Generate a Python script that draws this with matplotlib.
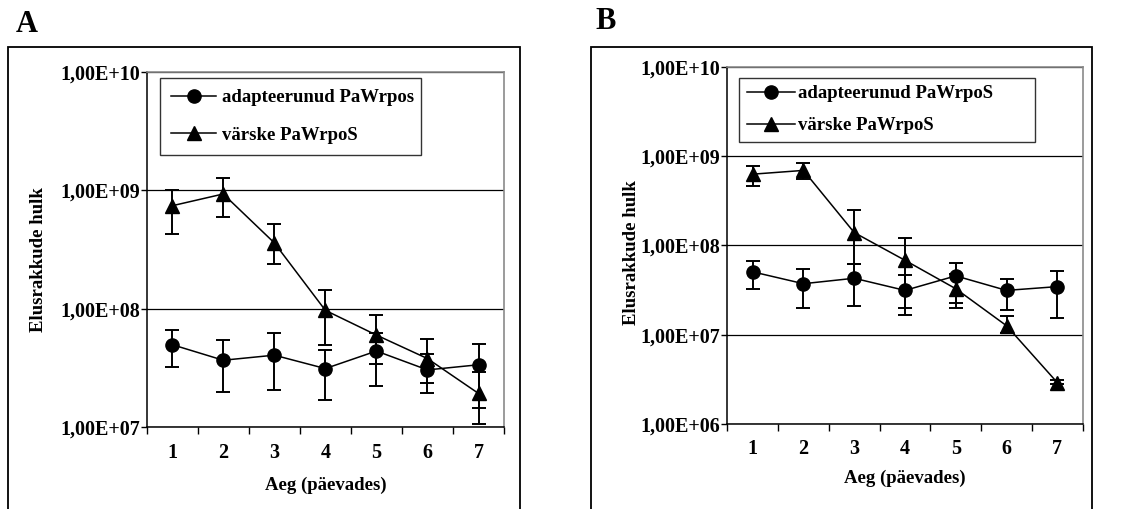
import numpy as np
import matplotlib
matplotlib.use("Agg")
import matplotlib.pyplot as plt
from matplotlib.patches import Rectangle
from matplotlib.lines import Line2D
from matplotlib.ticker import FixedLocator, FuncFormatter, NullLocator

plt.rcParams['font.family'] = ['Liberation Serif', 'DejaVu Serif']
plt.rcParams['font.weight'] = 'bold'

days = [1, 2, 3, 4, 5, 6, 7]

# panel A
a_adapt = [4.98e7, 3.68e7, 4.06e7, 3.13e7, 4.4e7, 3.05e7, 3.37e7]
a_adapt_lo = [3.24e7, 2.0e7, 2.06e7, 1.7e7, 2.24e7, 1.93e7, 1.07e7]
a_adapt_hi = [6.6e7, 5.4e7, 6.2e7, 4.45e7, 6.2e7, 4.17e7, 5.07e7]
a_fresh = [7.4e8, 9.3e8, 3.6e8, 9.7e7, 6.0e7, 3.8e7, 1.93e7]
a_fresh_lo = [4.3e8, 6.0e8, 2.38e8, 4.9e7, 3.44e7, 2.35e7, 1.46e7]
a_fresh_hi = [1.0e9, 1.26e9, 5.2e8, 1.43e8, 8.8e7, 5.6e7, 2.92e7]

# panel B
b_adapt = [5.05e7, 3.72e7, 4.28e7, 3.13e7, 4.55e7, 3.13e7, 3.45e7]
b_adapt_lo = [3.22e7, 2.0e7, 2.09e7, 1.68e7, 2.0e7, 1.9e7, 1.55e7]
b_adapt_hi = [6.7e7, 5.5e7, 6.2e7, 4.6e7, 6.4e7, 4.17e7, 5.2e7]
b_fresh = [6.26e8, 6.9e8, 1.39e8, 6.8e7, 3.27e7, 1.26e7, 2.91e6]
b_fresh_lo = [4.6e8, 5.5e8, 6.2e7, 2.0e7, 2.28e7, 1.05e7, 2.8e6]
b_fresh_hi = [7.7e8, 8.4e8, 2.49e8, 1.2e8, 4.75e7, 1.61e7, 3.1e6]

a_labels = ["adapteerunud PaWrpos", "värske PaWrpoS"]
b_labels = ["adapteerunud PaWrpoS", "värske PaWrpoS"]

xlabel = "Aeg (päevades)"
ylabel = "Elusrakkude hulk"

FS = 13.5
TFS = 14.5
MS = 9.5


def yerr(mid, lo, hi):
    mid = np.array(mid)
    return [mid - np.array(lo), np.array(hi) - mid]


def draw_panel(ax, series, labels, ylim, leg):
    markers = ['o', '^']
    handles = []
    for (mid, lo, hi), lab, mk in zip(series, labels, markers):
        ax.errorbar(days, mid, yerr=yerr(mid, lo, hi), color='black', lw=1.1,
                    marker=mk, markersize=MS, elinewidth=1.4, capsize=5,
                    capthick=1.4, zorder=3)
        handles.append(Line2D([], [], color='black', lw=1.1, marker=mk,
                              markersize=MS, label=lab))
    ax.set_yscale('log')
    ax.set_ylim(*ylim)
    ax.set_xlim(0.5, 7.5)
    decades = [10.0 ** e for e in range(int(np.log10(ylim[0])), int(np.log10(ylim[1])) + 1)]
    ax.yaxis.set_major_locator(FixedLocator(decades))
    ax.yaxis.set_minor_locator(NullLocator())
    ax.yaxis.set_major_formatter(FuncFormatter(lambda v, p: "1,00E+%02d" % round(np.log10(v))))
    ax.set_xticks(days)
    ax.xaxis.set_minor_locator(FixedLocator(np.arange(0.5, 8, 1.0)))
    ax.tick_params(axis='x', which='major', length=0, pad=11, labelsize=TFS)
    ax.tick_params(axis='x', which='minor', length=5, width=1, direction='out')
    ax.tick_params(axis='y', which='major', length=4, width=1, pad=1, labelsize=TFS)
    ax.grid(axis='y', which='major', color='black', lw=0.9)
    ax.set_axisbelow(True)
    for s in ['top', 'right']:
        ax.spines[s].set_color('#8a8a8a')
        ax.spines[s].set_linewidth(1.2)
    for s in ['left', 'bottom']:
        ax.spines[s].set_linewidth(1.1)
    ax.set_xlabel(xlabel, fontsize=FS, fontweight='bold')
    ax.set_ylabel(ylabel, fontsize=FS, fontweight='bold')
    lg = ax.legend(handles=handles, loc='upper left', bbox_to_anchor=leg['bbox'],
                   mode='expand', fontsize=FS, frameon=True, fancybox=False,
                   edgecolor='black', borderpad=leg['pad'],
                   labelspacing=leg['spacing'], handlelength=leg['hl'],
                   handletextpad=leg['htp'], borderaxespad=0)
    lg.get_frame().set_linewidth(1.0)
    lg.set_zorder(5)


fig = plt.figure(figsize=(11.43, 5.09), dpi=100)

axA = fig.add_axes([0.1283, 0.1605, 0.3127, 0.6986])
draw_panel(axA,
           [(a_adapt, a_adapt_lo, a_adapt_hi), (a_fresh, a_fresh_lo, a_fresh_hi)],
           a_labels, (1e7, 1e10),
           dict(bbox=(0.037, 0.5, 0.732, 0.483), pad=0.6, spacing=1.1, hl=2.4, htp=0.3))
axA.xaxis.set_label_coords(0.5, -0.14)
axA.yaxis.set_label_coords(-0.28, 0.473)

axB = fig.add_axes([0.6363, 0.167, 0.3109, 0.702])
draw_panel(axB,
           [(b_adapt, b_adapt_lo, b_adapt_hi), (b_fresh, b_fresh_lo, b_fresh_hi)],
           b_labels, (1e6, 1e10),
           dict(bbox=(0.033, 0.5, 0.834, 0.469), pad=0.4, spacing=0.78, hl=2.6, htp=0.15))
axB.xaxis.set_label_coords(0.5, -0.129)
axB.yaxis.set_label_coords(-0.245, 0.479)

# outer frames
fig.patches.append(Rectangle((0.0073, -0.02), 0.4476, 0.927, transform=fig.transFigure,
                             fill=False, edgecolor='black', lw=1.3))
fig.patches.append(Rectangle((0.5168, -0.02), 0.4383, 0.927, transform=fig.transFigure,
                             fill=False, edgecolor='black', lw=1.3))

fig.text(0.014, 0.952, "A", fontsize=22, fontweight='bold', va='center', ha='left')
fig.text(0.521, 0.958, "B", fontsize=22, fontweight='bold', va='center', ha='left')

fig.savefig("out.png", dpi=100)
